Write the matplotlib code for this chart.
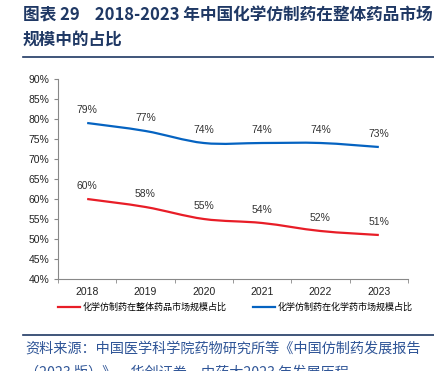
import matplotlib.pyplot as plt
import numpy as np
from matplotlib.path import Path
from matplotlib.patches import PathPatch
from matplotlib.lines import Line2D

plt.rcParams['font.family'] = ['Liberation Sans', 'Noto Sans CJK SC', 'DejaVu Sans']

years = ['2018', '2019', '2020', '2021', '2022', '2023']
share_total = [60, 58, 55, 54, 52, 51]
share_chem = [79, 77, 74, 74, 74, 73]
yticks = list(range(40, 95, 5))

RED = '#E81D27'
BLUE = '#0563C1'
NAVY = '#1F3864'


def smooth_path(x, y):
    # Catmull-Rom curve drawn as cubic Bezier segments
    x = np.asarray(x, float)
    y = np.asarray(y, float)
    pts = np.column_stack([x, y])
    verts = [pts[0]]
    codes = [Path.MOVETO]
    n = len(pts)
    for i in range(n - 1):
        p0 = pts[i - 1] if i > 0 else pts[i]
        p1 = pts[i]
        p2 = pts[i + 1]
        p3 = pts[i + 2] if i + 2 < n else pts[i + 1]
        c1 = p1 + (p2 - p0) / 6
        c2 = p2 - (p3 - p1) / 6
        verts += [c1, c2, p2]
        codes += [Path.CURVE4] * 3
    return Path(verts, codes)


fig = plt.figure(figsize=(4.34, 3.71), dpi=100)
ax = fig.add_axes([58 / 434, 1 - 279 / 371, 350 / 434, 200 / 371])

x = np.arange(len(years))
for vals, color in [(share_total, RED), (share_chem, BLUE)]:
    ax.add_patch(PathPatch(smooth_path(x, vals), facecolor='none',
                           edgecolor=color, lw=1.6))
    for xi, v in zip(x, vals):
        ax.text(xi, v + 1.9, f'{v}%', ha='center', va='bottom',
                fontsize=7.5, color='#333333')

ax.set_xlim(-0.5, len(years) - 0.5)
ax.set_ylim(40, 90)
ax.set_yticks(yticks)
ax.set_yticklabels([f'{t}%' for t in yticks], fontsize=7.5, color='#222222')
ax.set_xticks(x)
ax.set_xticklabels(years, fontsize=7.5, color='#222222')
ax.set_xticks(np.arange(len(years) + 1) - 0.5, minor=True)
ax.tick_params(axis='x', which='major', length=0, pad=6)
ax.tick_params(axis='x', which='minor', length=3, color='#888888')
ax.tick_params(axis='y', length=3, color='#888888', pad=3)
for s in ['top', 'right']:
    ax.spines[s].set_visible(False)
for s in ['left', 'bottom']:
    ax.spines[s].set_color('#888888')
    ax.spines[s].set_linewidth(0.8)

handles = [Line2D([], [], color=RED, lw=1.6),
           Line2D([], [], color=BLUE, lw=1.6)]
fig.legend(handles, ['化学仿制药在整体药品市场规模占比', '化学仿制药在化学药市场规模占比'],
           loc='center left', bbox_to_anchor=(52 / 434, 1 - 307 / 371), ncol=2,
           frameon=False, handlelength=2.4, handletextpad=0.25,
           columnspacing=3.0, borderpad=0.2,
           prop={'family': ['Noto Sans CJK SC'], 'size': 6.5})

fig.text(23 / 434, 1 - 15 / 371, '图表 29    2018-2023 年中国化学仿制药在整体药品市场',
         ha='left', va='center', fontsize=12, fontweight='bold', color=NAVY,
         family=['Noto Sans CJK SC', 'DejaVu Sans'])
fig.text(23 / 434, 1 - 40 / 371, '规模中的占比',
         ha='left', va='center', fontsize=12, fontweight='bold', color=NAVY,
         family=['Noto Sans CJK SC', 'DejaVu Sans'])
fig.add_artist(Line2D([23 / 434, 1], [1 - 57 / 371] * 2, color=NAVY, lw=1.2))
fig.add_artist(Line2D([23 / 434, 1], [1 - 335 / 371] * 2, color=NAVY, lw=1.2))
fig.text(25 / 434, 1 - 349 / 371, '资料来源：中国医学科学院药物研究所等《中国仿制药发展报告',
         ha='left', va='center', fontsize=10.2, style='italic', color='#2F5597',
         family=['Noto Sans CJK SC', 'DejaVu Sans'])
fig.text(25 / 434, 1 - 373 / 371, '（2023 版）》，华创证券，中药大2023 年发展历程',
         ha='left', va='center', fontsize=10.2, style='italic', color='#2F5597',
         family=['Noto Sans CJK SC', 'DejaVu Sans'])

fig.savefig('out.png', dpi=100)
